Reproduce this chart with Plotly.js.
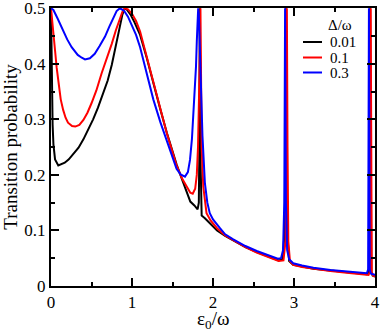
<!DOCTYPE html>
<html>
<head>
<meta charset="utf-8">
<script src="https://cdn.plot.ly/plotly-3.0.1.min.js"></script>
<style>html,body{margin:0;padding:0;background:#fff;}#chart{width:382px;height:332px;}</style>
</head>
<body>
<div id="chart"></div>
<script>
// Δ/ω = 0.01
const xBlack = [0,0.005,0.01,0.02,0.03,0.05,0.09,0.13,0.17,0.22,0.27,0.34,0.4,0.46,0.52,0.58,0.64,0.7,0.75,0.8,0.85,0.88,0.91,0.94,0.98,1.03,1.1,1.18,1.26,1.35,1.43,1.5,1.55,1.62,1.68,1.72,1.77,1.81,1.825,1.832,1.836,1.838,1.84,1.843,1.85,1.86,1.9,1.97,2.05,2.15,2.25,2.4,2.54,2.68,2.81,2.86,2.885,2.895,2.9,2.905,2.915,2.94,2.99,3.1,3.24,3.45,3.65,3.8,3.9,3.925,3.935,3.94,3.945,3.955,3.97,4.0];
const yBlack = [0.5,0.43,0.38,0.29,0.255,0.228,0.217,0.219,0.222,0.228,0.236,0.249,0.264,0.281,0.3,0.321,0.345,0.37,0.398,0.43,0.467,0.488,0.5,0.497,0.489,0.475,0.452,0.412,0.366,0.318,0.276,0.243,0.219,0.191,0.166,0.152,0.145,0.138,0.15,0.25,0.45,0.5,0.42,0.25,0.14,0.127,0.122,0.112,0.1,0.09,0.082,0.07,0.061,0.053,0.046,0.048,0.1,0.3,0.5,0.3,0.1,0.045,0.038,0.035,0.031,0.028,0.025,0.023,0.021,0.023,0.15,0.5,0.15,0.025,0.019,0.017];
// Δ/ω = 0.1
const xRed = [0,0.01,0.02,0.035,0.05,0.07,0.09,0.12,0.15,0.18,0.21,0.26,0.3,0.35,0.4,0.45,0.5,0.56,0.625,0.69,0.75,0.8,0.85,0.88,0.91,0.95,1.0,1.05,1.1,1.18,1.263,1.35,1.428,1.5,1.55,1.62,1.675,1.72,1.75,1.78,1.8,1.815,1.83,1.84,1.845,1.85,1.86,1.88,1.9,1.92,1.97,2.05,2.15,2.25,2.4,2.54,2.68,2.81,2.87,2.895,2.905,2.912,2.92,2.93,2.95,2.99,3.1,3.24,3.45,3.65,3.8,3.92,3.935,3.942,3.947,3.952,3.96,3.975,4.0];
const yRed = [0.5,0.487,0.47,0.445,0.424,0.393,0.365,0.336,0.317,0.303,0.294,0.288,0.287,0.29,0.299,0.312,0.329,0.352,0.383,0.41,0.436,0.46,0.482,0.493,0.5,0.498,0.49,0.477,0.458,0.413,0.365,0.318,0.276,0.241,0.217,0.193,0.179,0.168,0.166,0.175,0.2,0.25,0.36,0.5,0.5,0.42,0.25,0.179,0.148,0.131,0.118,0.104,0.091,0.082,0.07,0.06,0.052,0.045,0.046,0.08,0.25,0.5,0.25,0.08,0.045,0.038,0.034,0.031,0.027,0.024,0.022,0.02,0.025,0.15,0.5,0.15,0.025,0.019,0.017];
// Δ/ω = 0.3
const xBlue = [0,0.03,0.08,0.13,0.2,0.255,0.33,0.38,0.42,0.48,0.54,0.6,0.667,0.72,0.77,0.81,0.85,0.9,0.95,1.0,1.05,1.1,1.18,1.263,1.35,1.428,1.5,1.55,1.6,1.654,1.69,1.716,1.74,1.757,1.775,1.79,1.8,1.81,1.817,1.825,1.835,1.85,1.87,1.9,1.93,1.96,2.0,2.086,2.15,2.25,2.4,2.54,2.68,2.8,2.84,2.865,2.88,2.89,2.9,2.915,2.94,2.99,3.1,3.24,3.45,3.65,3.8,3.9,3.915,3.925,3.935,3.95,4.0];
const yBlue = [0.5,0.497,0.482,0.466,0.444,0.43,0.416,0.411,0.408,0.41,0.418,0.432,0.449,0.467,0.483,0.495,0.5,0.496,0.485,0.47,0.452,0.43,0.385,0.336,0.295,0.261,0.229,0.211,0.201,0.197,0.205,0.227,0.265,0.305,0.355,0.395,0.44,0.49,0.5,0.49,0.44,0.36,0.27,0.185,0.15,0.131,0.12,0.104,0.093,0.084,0.072,0.063,0.055,0.049,0.05,0.065,0.15,0.5,0.15,0.065,0.048,0.041,0.037,0.033,0.029,0.026,0.024,0.023,0.03,0.5,0.03,0.022,0.02];

const seriesNames = ['0.01','0.1','0.3'];
const seriesColors = ['#000000','#ff0000','#0000ff'];
const legendTitle = 'Δ/ω';
const xTitle = 'ε<sub>0</sub>/ω';
const yTitle = 'Transition probability';
const yTickVals = [0,0.1,0.2,0.3,0.4,0.5];
const yTickText = ['0','0.1','0.2','0.3','0.4','0.5'];
const xTickVals = [0,1,2,3,4];
const xTickText = ['0','1','2','3','4'];

const font = 'Liberation Serif';
const xs = [xBlack,xRed,xBlue], ys = [yBlack,yRed,yBlue];
const traces = xs.map((x,i)=>({x:x,y:ys[i],name:seriesNames[i],type:'scatter',mode:'lines',
  line:{color:seriesColors[i],width:2}}));

// manual legend and x title (paper coords)
const L = 51, W = 324, T = 8, H = 278;
const px = v => (v-L)/W, py = v => (286-v)/H;
const legY = [42,57.5,72.5];
const shapes = legY.map((yy,i)=>({type:'line',xref:'paper',yref:'paper',x0:px(303),x1:px(322),y0:py(yy),y1:py(yy),
  line:{color:seriesColors[i],width:2}}));
const annotations = legY.map((yy,i)=>({xref:'paper',yref:'paper',x:px(328),y:py(yy),xanchor:'left',yanchor:'middle',
  text:seriesNames[i],showarrow:false,font:{family:font,size:15,color:'#000'}}));
annotations.push({xref:'paper',yref:'paper',x:px(326),y:py(25),xanchor:'left',yanchor:'middle',
  text:legendTitle,showarrow:false,font:{family:font,size:15,color:'#000'}});
annotations.push({xref:'paper',yref:'paper',x:0.5,y:py(320.5),xanchor:'center',yanchor:'middle',
  text:xTitle,showarrow:false,font:{family:font,size:19,color:'#000'}});

const axisCommon = {
  showline:true, linecolor:'#000', linewidth:2, mirror:'allticks',
  ticks:'inside', ticklen:8, tickwidth:2, tickcolor:'#000',
  showgrid:false, zeroline:false, ticklabeloverflow:'allow',
  tickfont:{family:font,size:17,color:'#000'}
};
const layout = {
  width:382, height:332,
  margin:{l:51,r:7,t:8,b:46},
  paper_bgcolor:'#fff', plot_bgcolor:'#fff',
  showlegend:false,
  shapes:shapes, annotations:annotations,
  xaxis:Object.assign({},axisCommon,{range:[0,4],tickmode:'array',tickvals:xTickVals,ticktext:xTickText,
    minor:{dtick:0.5,ticks:'inside',ticklen:4,tickwidth:2,tickcolor:'#000'}}),
  yaxis:Object.assign({},axisCommon,{range:[0,0.5005],tickmode:'array',tickvals:yTickVals,ticktext:yTickText,
    minor:{dtick:0.05,ticks:'inside',ticklen:4,tickwidth:2,tickcolor:'#000'},
    title:{text:yTitle,font:{family:font,size:19,color:'#000'},standoff:2}})
};
Plotly.newPlot('chart',traces,layout,{displayModeBar:false,staticPlot:true});
</script>
</body>
</html>
